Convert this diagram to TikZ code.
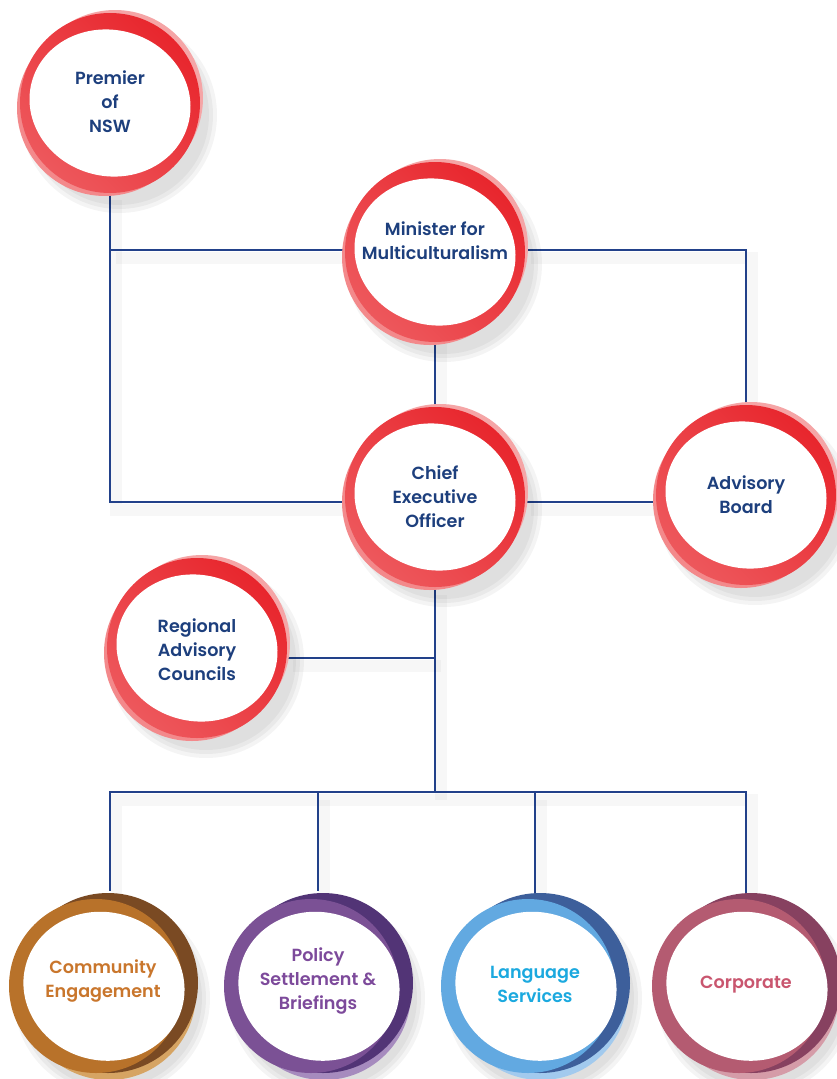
\documentclass[tikz,border=0pt]{standalone}
\usepackage{fontspec}
\setmainfont{Poppins}[BoldFont={Poppins SemiBold}]
\usepackage{xcolor}
\usepackage{tikz}
\usetikzlibrary{positioning, calc, backgrounds}

\definecolor{nswnavy}{HTML}{1D3F7D}
\definecolor{linenavy}{HTML}{22418A}
\definecolor{ringred}{HTML}{E8262D}
\definecolor{ringpink}{HTML}{F3898B}
\definecolor{ringblush}{HTML}{F5A5A6}
\definecolor{commmain}{HTML}{B8722A}
\definecolor{commdark}{HTML}{7A4A23}
\definecolor{commlight}{HTML}{D6A463}
\definecolor{commtext}{HTML}{C9762C}
\definecolor{polmain}{HTML}{7B5195}
\definecolor{poldark}{HTML}{523476}
\definecolor{pollight}{HTML}{A68BBE}
\definecolor{poltext}{HTML}{7D4A9B}
\definecolor{langmain}{HTML}{62A9E1}
\definecolor{langdark}{HTML}{3D5F9B}
\definecolor{langlight}{HTML}{A2CAEE}
\definecolor{langtext}{HTML}{1BA9DF}
\definecolor{corpmain}{HTML}{B45B71}
\definecolor{corpdark}{HTML}{874160}
\definecolor{corplight}{HTML}{D59CA8}
\definecolor{corptext}{HTML}{C9566F}

\tikzset{
  unit/.style={circle, minimum size=3.6cm, inner sep=0pt, align=center,
    font=\fontsize{10}{13.6}\selectfont\bfseries, text=nswnavy},
  division/.style={unit, text=#1},
  link/.style={draw=linenavy, line width=1.1pt,
    preaction={draw=black, opacity=0.03, line width=0.24cm,
      transform canvas={shift={(0.12cm,-0.16cm)}}}},
  blobshadow/.style={fill=black, opacity=0.045},
}

\begin{document}
\begin{tikzpicture}[x=0.02cm, y=0.02cm]
    \useasboundingbox (0,0) rectangle (836,-1079);

    % Red rings: Premier, Minister, CEO, Advisory Board, Regional
    \foreach \cx/\cy in {110/-103, 435/-252, 435/-497, 746/-495, 197/-648}{
        \begin{scope}[shift={(\cx,\cy)}]
            \foreach \r in {98,94,90} \fill[blobshadow] (9,-12) circle (\r);
            \fill[ringblush] (5,5) circle (88);
            \fill[ringpink] (-5,-5) circle (88);
            \shade[left color=ringpink!50!ringred, middle color=ringred,
                right color=ringred, shading angle=135] (0,0) circle (90);
            \fill[white, rotate=-15] (0,0) ellipse [x radius=81, y radius=73];
        \end{scope}
    }

    % Coloured rings: the four divisions
    \foreach \cx/\cy/\rmain/\rdark/\rlight in {103/-986/commmain/commdark/commlight,
        318/-986/polmain/poldark/pollight, 535/-986/langmain/langdark/langlight,
        746/-986/corpmain/corpdark/corplight}{
        \begin{scope}[shift={(\cx,\cy)}]
            \foreach \r in {98,94,90} \fill[blobshadow] (9,-12) circle (\r);
            \fill[\rlight] (6,-7) circle (87);
            \fill[\rdark] (5,3) circle (90);
            \fill[\rmain] (-7,0) circle (87);
            \fill[white, rotate=-15] (1,0) ellipse [x radius=81, y radius=74];
        \end{scope}
    }

    % Units
    \node[unit] (premier) at (110,-102) {Premier\\of\\NSW};
    \node[unit] (minister) at (435,-241) {Minister for\\Multiculturalism};
    \node[unit] (ceo) at (435,-497) {Chief\\Executive\\Officer};
    \node[unit] (board) at (746,-495) {Advisory\\Board};
    \node[unit] (regional) at (197,-650) {Regional\\Advisory\\Councils};

    % Divisions
    \node[division=commtext] (community) at (103,-981) {Community\\Engagement};
    \node[division=poltext] (policy) at (318,-981) {Policy\\Settlement \&\\Briefings};
    \node[division=langtext] (language) at (535,-984) {Language\\Services};
    \node[division=corptext] (corporate) at (746,-985) {Corporate};

    % Reporting lines
    \begin{scope}[on background layer]
        \coordinate (mleft) at ($(minister.west)+(0,-9)$);
        \coordinate (mright) at ($(minister.east)+(0,-9)$);
        \coordinate (cleft) at ($(ceo.west)+(0,-5)$);
        \coordinate (cright) at ($(ceo.east)+(0,-5)$);
        \coordinate (bus) at (ceo.south |- 0,-792);
        \draw[link] (premier.south) |- (cleft);
        \draw[link] (premier.south |- mleft) -- (mleft);
        \draw[link] (mright) -| (board.north);
        \draw[link] (minister.south) -- (ceo.north);
        \draw[link] (cright) -- (cright -| board.west);
        \draw[link] (ceo.south) -- (bus);
        \draw[link] ($(regional.east)+(0,-8)$) -- ($(regional.east -| bus)+(0,-8)$);
        \draw[link] ($(community.north)+(7,0)$) |- (bus) -| (corporate.north);
        \draw[link] (policy.north) -- (policy.north |- bus);
        \draw[link] (language.north) -- (language.north |- bus);
    \end{scope}
\end{tikzpicture}
\end{document}
